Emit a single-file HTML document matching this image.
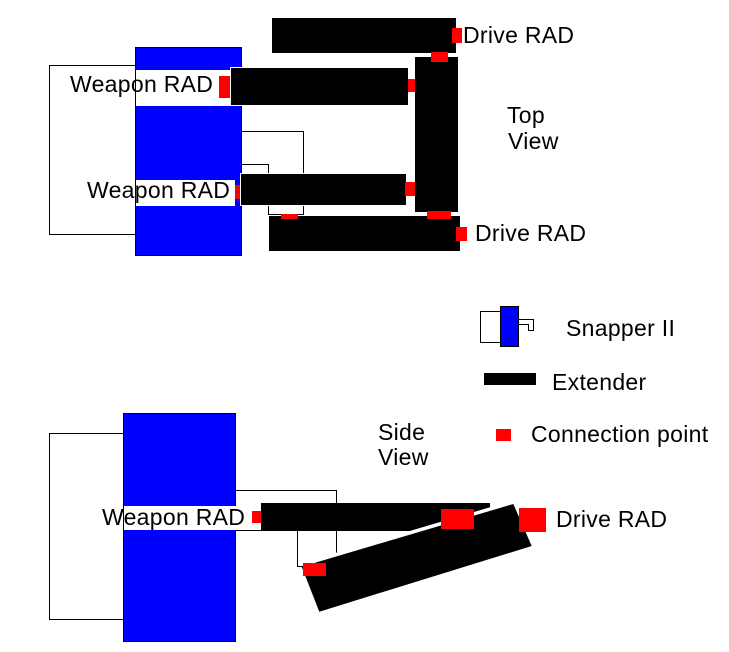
<!DOCTYPE html>
<html>
<head>
<meta charset="utf-8">
<style>
html,body{margin:0;padding:0;background:#fff;}
svg{display:block;}
text{font-family:"Liberation Sans",Arial,sans-serif;font-size:23px;letter-spacing:0.3px;fill:#000;}
</style>
</head>
<body>
<svg width="729" height="652" viewBox="0 0 729 652" xmlns="http://www.w3.org/2000/svg">
<rect x="0" y="0" width="729" height="652" fill="#fff"/>
<g shape-rendering="crispEdges">
<!-- ===== TOP VIEW ===== -->
<rect x="49.5" y="65.5" width="86" height="169" fill="#fff" stroke="#000" stroke-width="1"/>
<rect x="135.5" y="47.5" width="106" height="208" fill="#0000ff" stroke="#000" stroke-width="1"/>
<rect x="136" y="70" width="94" height="36" fill="#fff"/>
<rect x="136" y="180" width="99" height="26" fill="#fff"/>
<polyline points="241,131.5 303.5,131.5 303.5,214.5 268.5,214.5 268.5,164.5 241,164.5" fill="none" stroke="#000" stroke-width="1"/>
<rect x="219" y="76" width="12" height="22" fill="#ff0000"/>
<rect x="230.5" y="67.5" width="178" height="38" fill="#000" stroke="#fff" stroke-width="1"/>
<rect x="235" y="185" width="6" height="14" fill="#ff0000"/>
<rect x="240.5" y="173.5" width="166" height="32" fill="#000" stroke="#fff" stroke-width="1"/>
<rect x="405" y="182" width="10" height="14" fill="#ff0000"/>
<rect x="408" y="79" width="7" height="13" fill="#ff0000"/>
<rect x="272" y="18" width="184" height="35" fill="#000"/>
<rect x="452" y="28" width="10" height="15" fill="#ff0000"/>
<rect x="415" y="57" width="43" height="155" fill="#000"/>
<rect x="431" y="52" width="17" height="10" fill="#ff0000"/>
<rect x="269" y="216" width="191" height="35" fill="#000"/>
<rect x="427" y="211" width="24" height="8" fill="#ff0000"/>
<rect x="281" y="214" width="17" height="5" fill="#ff0000"/>
<rect x="456" y="227" width="11" height="14" fill="#ff0000"/>

<!-- ===== LEGEND ===== -->
<rect x="480.5" y="311.5" width="20" height="31" fill="#fff" stroke="#000" stroke-width="1"/>
<rect x="500.5" y="306.5" width="18" height="40" fill="#0000ff" stroke="#000" stroke-width="1"/>
<polyline points="519,319.5 533.5,319.5 533.5,330.5 528.5,330.5 528.5,324.5 519,324.5" fill="none" stroke="#000" stroke-width="1"/>
<rect x="484" y="373" width="52" height="12" fill="#000"/>
<rect x="496" y="429" width="15" height="12" fill="#ff0000"/>

<!-- ===== SIDE VIEW ===== -->
<rect x="49.5" y="433.5" width="74" height="186" fill="#fff" stroke="#000" stroke-width="1"/>
<rect x="123.5" y="413.5" width="112" height="228" fill="#0000ff" stroke="#000" stroke-width="1"/>
<polyline points="236,490.5 336.5,490.5 336.5,566.5 297.5,566.5 297.5,530.5 236,530.5" fill="none" stroke="#000" stroke-width="1"/>
<rect x="124" y="506" width="128" height="24" fill="#fff"/>
<rect x="252" y="511" width="9" height="12" fill="#ff0000"/>
<rect x="261" y="503" width="229" height="28" fill="#000"/>
</g>
<!-- white halo along tilted bar top edge (cuts the horizontal bar) -->
<polygon points="330,558.2 513.3,504 520,519.3 336,573.5" fill="#fff" stroke="#fff" stroke-width="7"/>
<polygon points="301.7,566.7 513.3,504 531.7,546 319.3,611.7" fill="#000"/>
<g shape-rendering="crispEdges">
<rect x="441" y="509" width="33" height="20" fill="#ff0000"/>
<rect x="519" y="508" width="27" height="24" fill="#ff0000"/>
<rect x="303" y="563" width="23" height="13" fill="#ff0000"/>
</g>

<!-- ===== TEXT ===== -->
<text x="70" y="92">Weapon RAD</text>
<text x="87" y="198">Weapon RAD</text>
<text x="463" y="43">Drive RAD</text>
<text x="475" y="241">Drive RAD</text>
<text x="507" y="123">Top</text>
<text x="508" y="149">View</text>
<text x="566" y="336">Snapper II</text>
<text x="552" y="390">Extender</text>
<text x="531" y="442">Connection point</text>
<text x="378" y="440">Side</text>
<text x="378" y="465">View</text>
<text x="102" y="525">Weapon RAD</text>
<text x="556" y="527">Drive RAD</text>
</svg>
</body>
</html>
